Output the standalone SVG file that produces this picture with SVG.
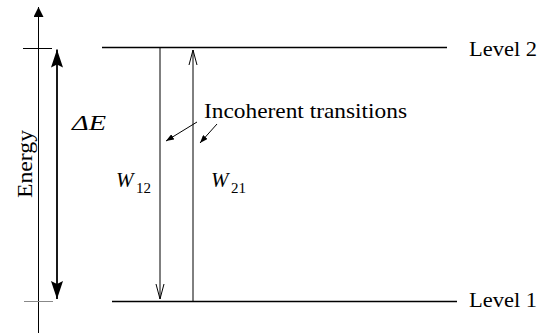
<svg xmlns="http://www.w3.org/2000/svg" width="539" height="333" viewBox="0 0 539 333">
<style>
text{font-family:"Liberation Serif","DejaVu Serif","Times New Roman",serif;fill:#000}
.lbl{font-size:21px}
.it{font-style:italic}
.lvl{stroke:#000;stroke-width:1.6;fill:none}
.thin{stroke:#000;stroke-width:1;fill:none}
.mid{stroke:#000;stroke-width:1.8;fill:none}
</style>
<defs>
<marker id="solid" viewBox="0 0 10 10" refX="10" refY="5" markerWidth="10" markerHeight="10" markerUnits="userSpaceOnUse" orient="auto">
<path d="M0,0 L10,5 L0,10 Z" fill="#000"/>
</marker>
<marker id="big" viewBox="0 0 18 12" refX="18" refY="6" markerWidth="18" markerHeight="12" markerUnits="userSpaceOnUse" orient="auto">
<path d="M0,0 L18,6 L0,12 L3,6 Z" fill="#000"/>
</marker>
<marker id="open" viewBox="0 0 16 10" refX="15" refY="5" markerWidth="16" markerHeight="10" markerUnits="userSpaceOnUse" orient="auto">
<path d="M0,1 L15,5 L0,9" fill="none" stroke="#000" stroke-width="1"/>
</marker>
<marker id="small" viewBox="0 0 8 6" refX="8" refY="3" markerWidth="8" markerHeight="6" markerUnits="userSpaceOnUse" orient="auto">
<path d="M0,0 L8,3 L0,6 Z" fill="#000"/>
</marker>
</defs>
<g id="energy-axis">
<line class="thin" x1="38.5" y1="333" x2="38.5" y2="7" marker-end="url(#solid)"/>
<line class="thin" x1="23" y1="48.5" x2="52" y2="48.5"/>
<line x1="24" y1="301.5" x2="53" y2="301.5" stroke="#888" stroke-width="1"/>
<text class="lbl" transform="translate(32,198) rotate(-90)" textLength="68" lengthAdjust="spacingAndGlyphs">Energy</text>
</g>
<g id="delta-e">
<line class="mid" x1="57" y1="175" x2="57" y2="49.5" marker-end="url(#big)"/>
<line class="mid" x1="57" y1="175" x2="57" y2="299" marker-end="url(#big)"/>
<text class="lbl it" x="72" y="130" textLength="34" lengthAdjust="spacingAndGlyphs">ΔE</text>
</g>
<g id="level2">
<line class="lvl" x1="102" y1="47.5" x2="447" y2="47.5"/>
<text class="lbl" x="469" y="56" textLength="68" lengthAdjust="spacingAndGlyphs">Level 2</text>
</g>
<g id="level1">
<line class="lvl" x1="112" y1="301.5" x2="457" y2="301.5"/>
<text class="lbl" x="469" y="307" textLength="68" lengthAdjust="spacingAndGlyphs">Level 1</text>
</g>
<g id="connectors">
<line class="thin" x1="160" y1="47.5" x2="160" y2="299" marker-end="url(#open)"/>
<line class="thin" x1="193" y1="301.5" x2="193" y2="50" marker-end="url(#open)"/>
<line class="thin" x1="197" y1="122" x2="166" y2="141" marker-end="url(#small)"/>
<line class="thin" x1="217" y1="124" x2="200" y2="143" marker-end="url(#small)"/>
</g>
<g id="w12">
<text class="lbl it" x="116" y="187">W</text>
<text x="136" y="193" font-size="15">12</text>
</g>
<g id="w21">
<text class="lbl it" x="211" y="187">W</text>
<text x="231" y="193" font-size="15">21</text>
</g>
<g id="incoherent">
<text class="lbl" x="204" y="118" textLength="203" lengthAdjust="spacingAndGlyphs">Incoherent transitions</text>
</g>
</svg>
